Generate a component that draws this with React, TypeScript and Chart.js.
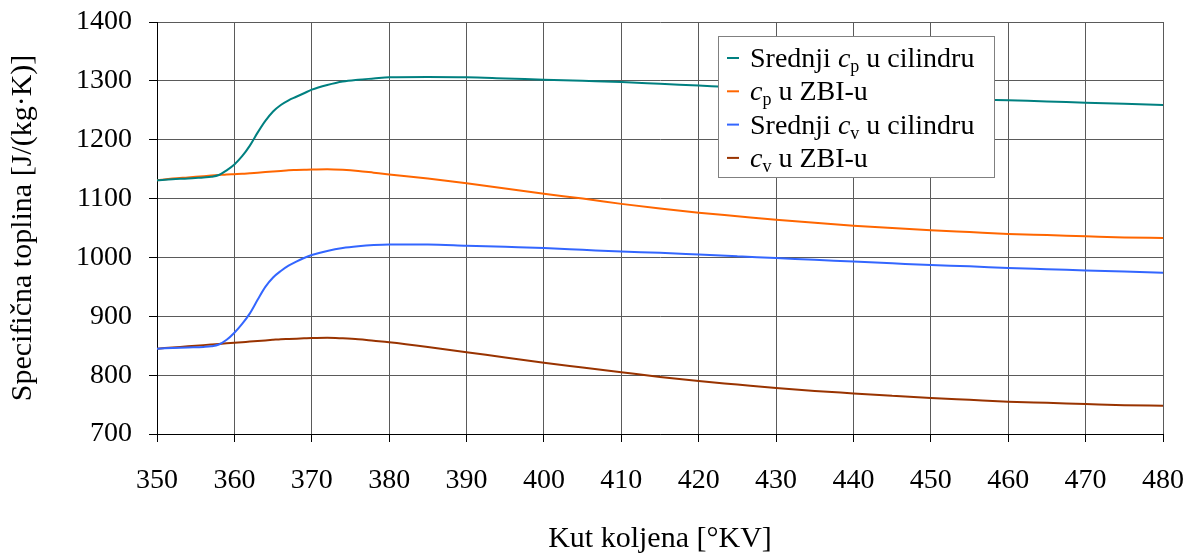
import React, { useEffect, useRef } from "react";
import { Chart, registerables } from "chart.js";

Chart.register(...registerables);

// Crank angle [°KV]
const ANGLES = [
  350, 352, 354, 356, 357, 358, 359, 360, 361, 362, 363, 364, 365, 366, 367, 368, 369, 370,
  372, 374, 376, 378, 380, 385, 390, 395, 400, 405, 410, 415, 420, 425, 430, 435, 440, 445,
  450, 455, 460, 465, 470, 475, 480,
];

// Srednji cp u cilindru
const CP_CYL = [
  1131, 1133, 1134, 1136, 1137, 1140, 1148, 1158, 1172, 1190, 1212, 1232, 1248, 1259, 1267, 1273, 1279, 1285,
  1293, 1299, 1302, 1304, 1306, 1306.5, 1306, 1304, 1302, 1300, 1298, 1295, 1292, 1289, 1285, 1281, 1278, 1275,
  1272, 1269, 1267, 1265, 1263, 1261, 1259,
];

// cp u ZBI-u
const CP_ZBI = [
  1131, 1134, 1136, 1138, 1139, 1140, 1141, 1141.5, 1142, 1143, 1144, 1145, 1146, 1147, 1148, 1148.5, 1149, 1149.5,
  1150, 1149, 1147, 1144, 1141, 1134, 1126, 1117, 1108, 1100, 1091, 1083, 1076, 1070, 1064, 1059, 1054, 1050,
  1046, 1043, 1040, 1038, 1036, 1034, 1033,
];

// Srednji cv u cilindru
const CV_CYL = [
  845, 846, 847, 848, 849, 852, 860, 872, 887, 905, 928, 950, 966, 977, 986, 993, 999, 1004,
  1011, 1016, 1019, 1021, 1022, 1022, 1020, 1018, 1016, 1013, 1010, 1008, 1005, 1002, 999, 996, 993, 990,
  987, 985, 982, 980, 978, 976, 974,
];

// cv u ZBI-u
const CV_ZBI = [
  845, 847, 849, 851, 852, 853, 854, 855, 856, 857, 858, 859, 860, 861, 861.5, 862, 862.5, 863,
  863.5, 862.5, 861, 858.5, 856, 848, 839, 830, 821, 813, 805, 797, 790, 784, 778, 773, 769, 765,
  761, 758, 755, 753, 751, 749, 748,
];

const X_TICKS = [350, 360, 370, 380, 390, 400, 410, 420, 430, 440, 450, 460, 470, 480];
const Y_TICKS = [700, 800, 900, 1000, 1100, 1200, 1300, 1400];

const SERIES_LABELS = [
  "Srednji cp u cilindru",
  "cp u ZBI-u",
  "Srednji cv u cilindru",
  "cv u ZBI-u",
];
// rich legend parts: [before, italic symbol, subscript, after]
const LEGEND_PARTS: [string, string, string, string][] = [
  ["Srednji ", "c", "p", " u cilindru"],
  ["", "c", "p", " u ZBI-u"],
  ["Srednji ", "c", "v", " u cilindru"],
  ["", "c", "v", " u ZBI-u"],
];
const COLORS = ["#008080", "#FF6600", "#3366FF", "#993300"];

const X_TITLE = "Kut koljena [°KV]";
const Y_TITLE = "Specifična toplina [J/(kg·K)]";

const FONT = "'Liberation Serif', 'Times New Roman', serif";

const richLegend = {
  id: "richLegend",
  afterDraw(chart: any) {
    const { ctx, chartArea } = chart;
    const bx = chartArea.left + 561;
    const by = chartArea.top + 14;
    const bw = 276;
    const bh = 141;
    ctx.save();
    ctx.fillStyle = "#ffffff";
    ctx.fillRect(bx, by, bw, bh);
    ctx.strokeStyle = "#808080";
    ctx.lineWidth = 1;
    ctx.strokeRect(bx + 0.5, by + 0.5, bw, bh);
    LEGEND_PARTS.forEach((parts, i) => {
      const y = by + 22 + i * 33.3;
      ctx.strokeStyle = COLORS[i];
      ctx.lineWidth = 2;
      ctx.beginPath();
      ctx.moveTo(bx + 9, y);
      ctx.lineTo(bx + 21, y);
      ctx.stroke();
      let x = bx + 32;
      const base = y + 9;
      ctx.fillStyle = "#000";
      ctx.textBaseline = "alphabetic";
      ctx.textAlign = "left";
      ctx.font = `28px ${FONT}`;
      ctx.fillText(parts[0], x, base);
      x += ctx.measureText(parts[0]).width;
      ctx.font = `italic 28px ${FONT}`;
      ctx.fillText(parts[1], x, base);
      x += ctx.measureText(parts[1]).width;
      ctx.font = `18px ${FONT}`;
      ctx.fillText(parts[2], x, base + 5);
      x += ctx.measureText(parts[2]).width;
      ctx.font = `28px ${FONT}`;
      ctx.fillText(parts[3], x, base);
    });
    ctx.restore();
  },
};

export default function App() {
  const ref = useRef<HTMLCanvasElement | null>(null);

  useEffect(() => {
    if (!ref.current) return;
    const series = [CP_CYL, CP_ZBI, CV_CYL, CV_ZBI];
    const chart = new Chart(ref.current, {
      type: "line",
      data: {
        datasets: series.map((vals, i) => ({
          label: SERIES_LABELS[i],
          data: ANGLES.map((a, k) => ({ x: a, y: vals[k] })),
          borderColor: COLORS[i],
          backgroundColor: COLORS[i],
          borderWidth: 2,
          pointRadius: 0,
          fill: false,
          cubicInterpolationMode: "monotone" as const,
        })),
      },
      options: {
        responsive: false,
        animation: false,
        devicePixelRatio: 1,
        layout: { padding: { left: 0, top: 22, right: 33, bottom: 0 } },
        plugins: {
          legend: { display: false },
          tooltip: { enabled: false },
        },
        scales: {
          x: {
            type: "linear",
            min: X_TICKS[0],
            max: X_TICKS[X_TICKS.length - 1],
            afterBuildTicks: (scale: any) => {
              scale.ticks = X_TICKS.map((v) => ({ value: v }));
            },
            afterFit: (scale: any) => {
              scale.height = 123;
              scale.paddingLeft = 0;
              scale.paddingRight = 0;
            },
            ticks: {
              color: "#000",
              font: { family: FONT, size: 28 },
              padding: 22,
              maxRotation: 0,
              autoSkip: false,
              callback: (v: any) => String(v),
            },
            grid: {
              color: "#5a5a5a",
              lineWidth: 1,
              tickLength: 8,
              tickColor: "#000",
            },
            border: { color: "#000", width: 1 },
            title: {
              display: true,
              text: X_TITLE,
              color: "#000",
              font: { family: FONT, size: 30, lineHeight: 1.2 },
              padding: { top: 0, bottom: 0 },
            },
          },
          y: {
            type: "linear",
            min: Y_TICKS[0],
            max: Y_TICKS[Y_TICKS.length - 1],
            afterBuildTicks: (scale: any) => {
              scale.ticks = Y_TICKS.map((v) => ({ value: v }));
            },
            afterFit: (scale: any) => {
              scale.width = 157;
              scale.paddingTop = 0;
              scale.paddingBottom = 0;
            },
            ticks: {
              color: "#000",
              font: { family: FONT, size: 28 },
              padding: 17,
              autoSkip: false,
              callback: (v: any) => String(v),
            },
            grid: {
              color: "#5a5a5a",
              lineWidth: 1,
              tickLength: 8,
              tickColor: "#000",
            },
            border: { color: "#000", width: 1 },
            title: {
              display: true,
              text: Y_TITLE,
              color: "#000",
              font: { family: FONT, size: 30, lineHeight: 1.2 },
              padding: { top: 5, bottom: 0 },
            },
          },
        },
      },
      plugins: [richLegend],
    });
    return () => chart.destroy();
  }, []);

  return (
    <div style={{ position: "fixed", left: 0, top: 0, width: 1196, height: 557, background: "#fff" }}>
      <canvas ref={ref} width={1196} height={557} />
    </div>
  );
}
